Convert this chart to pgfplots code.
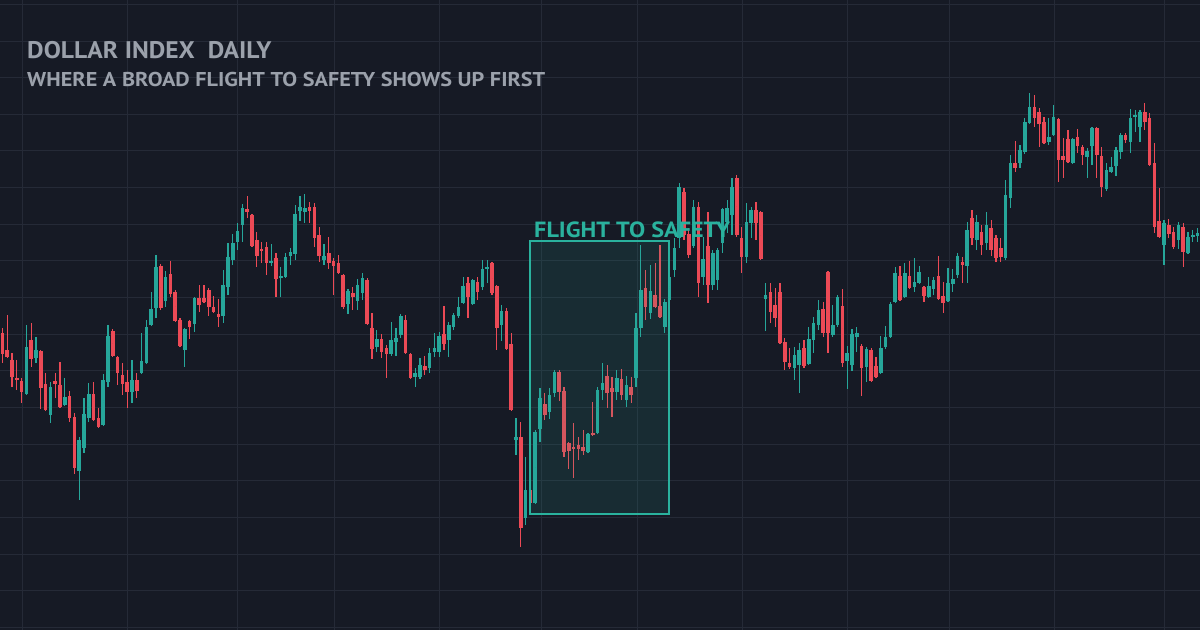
\documentclass[border=0pt]{standalone}
\usepackage{pgfplots}
\usepackage{pgfplotstable}
\pgfplotsset{compat=1.18}
\usepackage{fontspec}
\setmainfont{PT Sans}
\definecolor{bg}{RGB}{22,26,37}
\definecolor{gridc}{RGB}{37,42,55}
\definecolor{up}{RGB}{38,166,154}
\definecolor{dn}{RGB}{236,74,86}
\definecolor{ttl}{RGB}{155,161,171}
\definecolor{boxc}{RGB}{42,178,158}

% candles: pixel-scale price (smaller = higher), columns open high low close
\pgfplotstableread{
i o h l c
0 333 328 363 354
1 350 315 358 357
2 360 353 387 377
3 378 360 390 380
4 381 378 403 392
5 394 325 395 347
6 340 323 367 359
7 358 337 363 350
8 351 350 409 388
9 384 373 411 410
10 415 382 423 387
11 381 373 398 384
12 385 362 408 407
13 405 378 406 397
14 396 391 422 418
15 417 413 474 468
16 471 437 500 440
17 448 398 453 414
18 418 383 422 394
19 394 382 421 420
20 418 408 428 427
21 425 374 426 380
22 382 325 387 336
23 331 329 357 356
24 357 356 385 373
25 375 363 395 384
26 382 370 408 392
27 392 360 403 380
28 380 373 398 391
29 373 333 374 361
30 363 320 364 327
31 325 292 326 309
32 308 255 318 267
33 266 264 310 308
34 301 271 307 277
35 274 261 297 294
36 292 290 322 321
37 320 318 347 346
38 350 328 367 329
39 321 320 339 327
40 324 297 332 298
41 298 285 312 305
42 298 285 303 302
43 290 288 316 307
44 307 296 313 312
45 314 299 327 317
46 316 270 323 285
47 287 243 295 257
48 260 234 265 243
49 242 223 250 231
50 225 204 242 208
51 209 196 218 212
52 215 214 247 246
53 240 232 267 256
54 249 242 263 251
55 247 242 275 263
56 263 244 266 261
57 258 253 297 279
58 278 267 297 276
59 277 253 278 257
60 256 248 265 252
61 254 205 260 214
62 211 196 221 207
63 212 194 223 208
64 207 202 223 211
65 207 203 247 238
66 235 227 262 256
67 260 244 265 256
68 253 237 269 263
69 261 258 295 266
70 263 255 274 273
71 275 274 309 307
72 304 289 314 291
73 293 287 310 297
74 301 279 310 285
75 293 273 300 278
76 280 278 325 324
77 328 313 359 349
78 347 330 352 339
79 339 334 358 352
80 348 345 378 354
81 354 322 356 340
82 342 328 356 338
83 335 314 338 316
84 320 315 354 353
85 354 353 379 378
86 377 368 387 373
87 377 358 379 365
88 366 356 375 370
89 368 348 373 353
90 352 333 357 348
91 352 332 357 336
92 334 306 350 344
93 340 322 357 325
94 327 313 330 315
95 316 297 318 307
96 303 277 304 286
97 283 277 318 297
98 304 279 305 280
99 282 277 300 292
100 287 260 290 269
101 269 260 283 267
102 263 262 295 293
103 286 285 350 328
104 325 305 341 311
105 311 308 350 349
106 344 333 411 410
107 440 418 455 437
108 437 422 547 528
109 518 457 525 490
110 490 482 508 503
111 503 430 504 432
112 429 388 442 398
113 404 393 420 415
114 412 388 419 395
115 393 370 397 372
116 372 370 401 392
117 391 387 457 452
118 443 442 469 451
119 447 423 478 449
120 445 437 460 449
121 447 430 455 451
122 452 433 453 434
123 433 402 436 435
124 433 387 434 390
125 390 363 400 383
126 376 365 408 393
127 388 377 417 392
128 392 370 400 378
129 379 369 400 395
130 400 376 407 385
131 387 377 403 395
132 378 313 387 328
133 328 245 337 290
134 288 270 320 307
135 313 265 319 291
136 295 263 308 307
137 306 245 318 317
138 327 299 333 302
139 300 268 305 277
140 270 238 277 248
141 238 183 248 187
142 192 188 240 235
143 234 228 258 255
144 246 200 248 207
145 207 202 297 283
146 277 237 285 259
147 246 212 303 285
148 285 250 290 253
149 280 248 290 250
150 243 208 253 209
151 222 200 233 208
152 215 178 235 187
153 178 175 237 235
154 238 227 273 257
155 257 203 263 222
156 223 207 238 210
157 210 202 240 223
158 212 211 260 259
159 299 283 331 295
160 292 283 323 312
161 305 288 327 318
162 292 283 344 343
163 342 338 370 362
164 363 348 369 367
165 368 347 380 355
166 365 343 393 350
167 348 340 368 366
168 364 327 365 339
169 340 317 353 323
170 325 300 330 310
171 309 302 337 333
172 272 271 353 333
173 335 305 337 325
174 325 295 327 297
175 306 289 367 363
176 361 346 389 353
177 365 329 371 334
178 337 327 352 333
179 346 344 396 368
180 367 347 382 349
181 350 348 382 381
182 366 357 378 377
183 373 336 374 348
184 347 326 349 337
185 337 302 338 304
186 302 267 303 273
187 276 266 301 300
188 297 263 298 273
189 276 261 289 288
190 287 258 292 282
191 283 266 284 272
192 287 286 302 296
193 297 277 298 286
194 289 277 295 280
195 276 256 300 299
196 296 282 313 303
197 301 268 302 283
198 284 269 292 279
199 275 253 278 256
200 262 257 283 265
201 266 222 283 230
202 218 210 245 238
203 240 215 250 222
204 232 225 255 245
205 243 212 250 225
206 228 220 256 250
207 238 235 262 258
208 248 238 262 257
209 258 180 260 195
210 198 155 208 163
211 163 141 172 168
212 163 145 168 150
213 152 118 154 122
214 123 93 124 107
215 107 95 127 118
216 112 108 147 124
217 122 117 144 143
218 142 118 145 137
219 135 105 136 117
220 119 118 182 160
221 156 138 178 160
222 139 130 163 162
223 163 138 164 139
224 137 129 153 146
225 147 145 165 155
226 157 148 178 151
227 146 127 165 128
228 128 127 178 155
229 156 147 197 187
230 189 163 191 170
231 172 157 173 167
232 166 147 176 150
233 152 133 159 135
234 135 133 143 140
235 142 109 153 118
236 117 110 132 115
237 127 110 142 112
238 112 103 130 122
239 118 113 166 165
240 163 143 233 227
241 221 188 238 237
242 245 220 265 223
243 225 219 238 234
244 232 227 249 247
245 240 222 249 225
246 227 223 267 252
247 253 232 254 237
248 237 230 242 235
249 236 228 242 233
}\ohlc

\begin{document}
\begin{tikzpicture}[x=1pt,y=1pt]
\fill[bg] (0,0) rectangle (1200,630);
\begin{axis}[
  at={(0,0)}, anchor=south west,
  width=1200pt, height=630pt, scale only axis,
  xmin=-0.5, xmax=249.5, ymin=0, ymax=630, y dir=reverse,
  axis line style={draw=none},
  xtick={4.1,26,48.9,69.1,91,112.2,132.2,154.1,176,197.4,219.1,242},
  ytick={4.3,40.95,77.6,114.25,150.9,187.55,224.2,260.85,297.5,334.15,370.8,407.45,444.1,480.75,517.4,554.05,590.7,627.35},
  xticklabels={}, yticklabels={},
  major tick length=0pt,
  grid=major, grid style={gridc, line width=0.9pt},
  clip=true,
  candle/.style={only marks, mark=*, mark size=0pt, mark options={draw=none, fill=none}},
]
% wicks
\addplot[candle,
  restrict expr to domain={\thisrow{o}-\thisrow{c}}{0:1000},
  error bars/.cd, y dir=both, y explicit, error mark=none,
  error bar style={draw=up, line width=1.1pt}]
  table[x=i, y expr={(\thisrow{h}+\thisrow{l})/2}, y error expr={(\thisrow{l}-\thisrow{h})/2}] {\ohlc};
\addplot[candle,
  restrict expr to domain={\thisrow{o}-\thisrow{c}}{-1000:-0.01},
  error bars/.cd, y dir=both, y explicit, error mark=none,
  error bar style={draw=dn, line width=1.1pt}]
  table[x=i, y expr={(\thisrow{h}+\thisrow{l})/2}, y error expr={(\thisrow{l}-\thisrow{h})/2}] {\ohlc};
% bodies
\addplot[candle,
  restrict expr to domain={\thisrow{o}-\thisrow{c}}{0:1000},
  error bars/.cd, y dir=both, y explicit, error mark=none,
  error bar style={draw=up, line width=3.6pt}]
  table[x=i, y expr={(\thisrow{o}+\thisrow{c})/2}, y error expr={max(abs(\thisrow{o}-\thisrow{c})/2,0.7)}] {\ohlc};
\addplot[candle,
  restrict expr to domain={\thisrow{o}-\thisrow{c}}{-1000:-0.01},
  error bars/.cd, y dir=both, y explicit, error mark=none,
  error bar style={draw=dn, line width=3.6pt}]
  table[x=i, y expr={(\thisrow{o}+\thisrow{c})/2}, y error expr={max(abs(\thisrow{o}-\thisrow{c})/2,0.7)}] {\ohlc};
% highlight box
\fill[boxc, fill opacity=0.12] (axis cs:109.9,241) rectangle (axis cs:138.9,514);
\draw[boxc, line width=1.6pt] (axis cs:109.9,241) rectangle (axis cs:138.9,514);
\node[anchor=base west, inner sep=0pt, xscale=1.1, text=boxc, font=\bfseries\fontsize{22}{22}\selectfont] at (axis cs:110.75,237.5) {FLIGHT TO SAFETY};
% titles
\node[anchor=base west, inner sep=0pt, xscale=1.065, text=ttl, font=\bfseries\fontsize{24}{24}\selectfont] at (axis cs:5.125,58.3) {DOLLAR INDEX\ \ DAILY};
\node[anchor=base west, inner sep=0pt, xscale=1.11, text=ttl, font=\bfseries\fontsize{20}{20}\selectfont] at (axis cs:5.125,86.6) {WHERE A BROAD FLIGHT TO SAFETY SHOWS UP FIRST};
\end{axis}
\pgfresetboundingbox
\useasboundingbox (0,0) rectangle (1200,630);
\end{tikzpicture}
\end{document}
